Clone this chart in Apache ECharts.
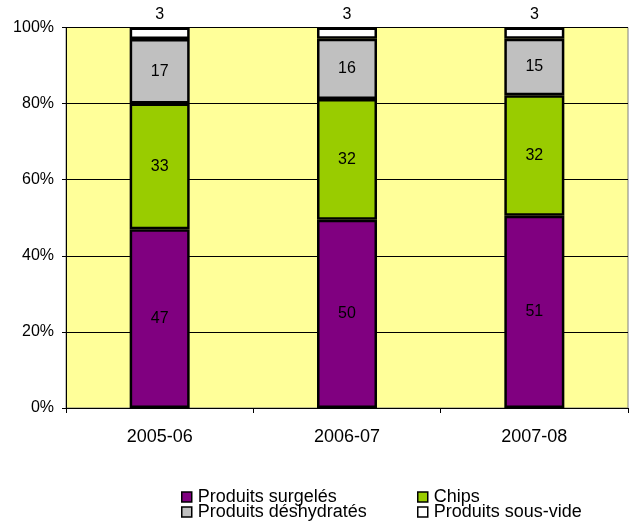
<!DOCTYPE html>
<html>
<head>
<meta charset="utf-8">
<script src="https://cdn.jsdelivr.net/npm/echarts@6/dist/echarts.min.js"></script>
<style>
html,body{margin:0;padding:0;background:#fff;}
#chart{width:633px;height:525px;}
</style>
</head>
<body>
<div id="chart"></div>
<script>
var categories = ['2005-06', '2006-07', '2007-08'];
var surgeles = [47, 50, 51];
var chips = [33, 32, 32];
var deshydrates = [17, 16, 15];
var sousVide = [3, 3, 3];
var seriesNames = ['Produits surgelés', 'Chips', 'Produits déshydratés', 'Produits sous-vide'];
var yTicks = [0, 20, 40, 60, 80, 100];

var raw = [surgeles, chips, deshydrates, sousVide];
var totals = categories.map(function (c, i) {
  return raw.reduce(function (s, arr) { return s + arr[i]; }, 0);
});
function share(arr) {
  return arr.map(function (v, i) { return { value: v / totals[i] * 100, raw: v }; });
}

var colors = ['#800080', '#99CC00', '#C0C0C0', '#FFFFFF'];
var FONT = 'Liberation Sans, Arial, sans-serif';

var chart = echarts.init(document.getElementById('chart'), null, { renderer: 'canvas' });

var series = raw.map(function (arr, k) {
  return {
    name: seriesNames[k],
    type: 'bar',
    stack: 'total',
    barWidth: 60,
    data: share(arr),
    itemStyle: { color: colors[k], borderColor: '#000', borderWidth: 2.5 },
    label: {
      show: true,
      position: k === 3 ? 'top' : 'inside',
      distance: 5,
      color: '#000',
      fontFamily: FONT,
      fontSize: 16,
      formatter: function (p) { return p.data.raw; }
    },
    emphasis: { disabled: true },
    animation: false
  };
});

var legendPos = [[181, 488], [417, 488], [181, 503], [417, 503]];
var legends = seriesNames.map(function (name, k) {
  return {
    data: [name],
    orient: 'horizontal', left: legendPos[k][0], top: legendPos[k][1],
    padding: 0,
    itemWidth: 10, itemHeight: 10, itemGap: 0,
    icon: 'rect',
    itemStyle: { borderColor: '#000', borderWidth: 1.5 },
    textStyle: { fontFamily: FONT, fontSize: 18, color: '#000', lineHeight: 15, padding: [0, 0, 0, 1] },
    selectedMode: false
  };
});

var option = {
  animation: false,
  grid: {
    left: 66, right: 5, top: 27.5, bottom: 117,
    show: true, backgroundColor: '#FFFF99', borderColor: '#808080', borderWidth: 1
  },
  legend: legends,
  xAxis: {
    type: 'category',
    data: categories,
    axisLine: { show: true, lineStyle: { color: '#000', width: 1 } },
    axisTick: { show: true, length: 5, lineStyle: { color: '#000' } },
    axisLabel: { color: '#000', fontFamily: FONT, fontSize: 18, margin: 20 },
    splitLine: { show: false }
  },
  yAxis: {
    type: 'value',
    min: yTicks[0], max: yTicks[yTicks.length - 1], interval: 20,
    axisLine: { show: true, lineStyle: { color: '#000', width: 1 } },
    axisTick: { show: true, length: 4, lineStyle: { color: '#000' } },
    axisLabel: { color: '#000', fontFamily: FONT, fontSize: 16, margin: 12, formatter: '{value}%' },
    splitLine: { show: true, lineStyle: { color: '#000', width: 1 } }
  },
  series: series
};
chart.setOption(option);
</script>
</body>
</html>
